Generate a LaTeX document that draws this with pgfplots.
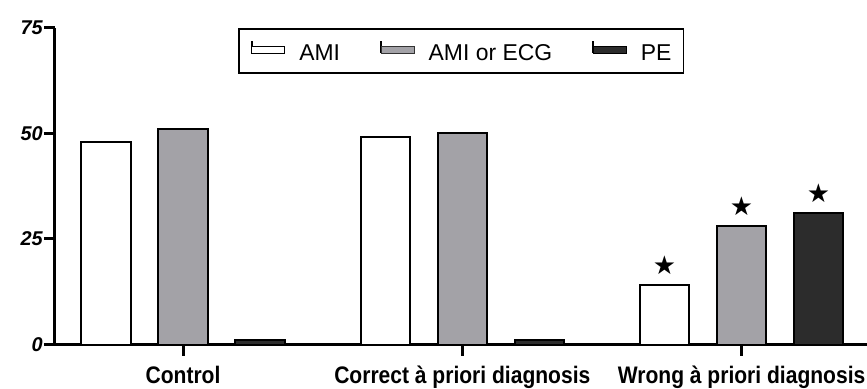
\documentclass[border=0pt]{standalone}
\usepackage{fontspec}
\setmainfont{Liberation Sans}
\newfontfamily\narrowfont[FakeStretch=0.88]{Liberation Sans}
\newfontfamily\symfont{DejaVu Sans}
\usepackage{pgfplots}
\pgfplotsset{compat=1.18}
\definecolor{barGray}{RGB}{163,162,167}
\definecolor{barDark}{RGB}{44,44,44}
\newcommand\ylab[1]{\mbox{\fontsize{20}{22}\selectfont\bfseries\itshape #1}}
\begin{document}
\begin{tikzpicture}
\useasboundingbox (-55bp,-44.5bp) rectangle (812bp,344.5bp);
\begin{axis}[
  scale only axis, width=812bp, height=317bp,
  xmin=-0.4584, xmax=2.449, ymin=0, ymax=75,
  axis lines=left, axis line style={line width=3bp, -},
  xtick={0,1,2},
  xticklabels={Control, Correct à priori diagnosis, Wrong à priori diagnosis},
  ytick={0,25,50,75},
  yticklabels={\ylab{0},\ylab{25},\ylab{50},\ylab{75}},
  tick align=outside, major tick length=11bp,
  tick style={line width=3bp, black},
  xticklabel style={font=\narrowfont\bfseries\fontsize{24}{26}\selectfont, yshift=-7bp},
  y tick label style={font=\fontsize{20}{22}\selectfont\bfseries\itshape, inner sep=1bp},
  legend style={at={(0.2254,0.997)}, anchor=north west, draw=black, line width=1.5bp,
    font=\fontsize{23}{26}\selectfont, inner xsep=12bp, inner ysep=11bp,
    nodes={inner sep=0pt},
    /tikz/every even column/.append style={column sep=40bp},
    /tikz/every odd column/.append style={column sep=14bp}},
  legend columns=3,
  point meta=explicit symbolic,
  nodes near coords={\if s\pgfplotspointmeta ★\fi},
  every node near coord/.append style={font=\symfont\fontsize{26}{26}\selectfont, inner sep=0pt, yshift=10bp, black},
]
\addplot[ybar, bar width=0.177, bar shift=-0.2757, fill=white, draw=black, line width=2bp,
  every node near coord/.append style={xshift=-77bp},
  legend image code/.code={\path (0bp,0bp) -- (0bp,12bp); \draw[fill=white, draw=black, line width=1.2bp] (0bp,0bp) rectangle (33bp,7bp);}]
  coordinates {(0,48) [n] (1,49) [n] (2,14) [s]};
\addplot[ybar, bar width=0.177, bar shift=0, fill=barGray, draw=black, line width=2bp,
  legend image code/.code={\path (0bp,0bp) -- (0bp,12bp); \draw[fill=barGray, draw=black!80, line width=1.2bp] (0bp,0bp) rectangle (33bp,7bp);}]
  coordinates {(0,51) [n] (1,50) [n] (2,28) [s]};
\addplot[ybar, bar width=0.177, bar shift=0.2757, fill=barDark, draw=black, line width=2bp,
  every node near coord/.append style={xshift=77bp},
  legend image code/.code={\path (0bp,0bp) -- (0bp,12bp); \draw[fill=barDark, draw=black, line width=1.2bp] (0bp,0bp) rectangle (33bp,7bp);}]
  coordinates {(0,1) [n] (1,1) [n] (2,31) [s]};
\legend{AMI, AMI or ECG, PE}
\end{axis}
\end{tikzpicture}
\end{document}
